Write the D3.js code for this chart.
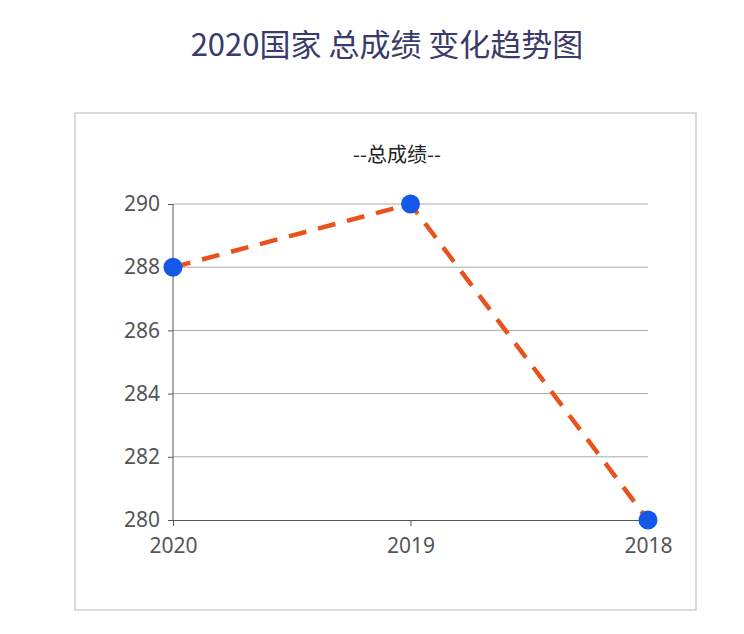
<!DOCTYPE html>
<html><head><meta charset="utf-8">
<script src="https://cdn.jsdelivr.net/npm/d3@7"></script>
<style>body{margin:0;background:#fff;font-family:"Noto Sans CJK SC","Noto Sans",sans-serif;}</style>
</head><body><div id="chart"></div>
<script>
const years = ["2020", "2019", "2018"];
const scores = [288, 290, 280];
const yTicks = [280, 282, 284, 286, 288, 290];

const width = 744, height = 634;
const svg = d3.select("#chart").append("svg").attr("width", width).attr("height", height);

svg.append("text").attr("x", 387).attr("y", 56).attr("text-anchor", "middle")
  .attr("font-size", 31).attr("fill", "#3b3b6b").text("2020国家 总成绩 变化趋势图");

svg.append("rect").attr("x", 75).attr("y", 113).attr("width", 621).attr("height", 497)
  .attr("fill", "none").attr("stroke", "#b8b8b8");

svg.append("text").attr("x", 397).attr("y", 162).attr("text-anchor", "middle")
  .attr("font-size", 20).attr("fill", "#222").text("--总成绩--");

const x = d3.scalePoint().domain(years).range([173, 648]);
const y = d3.scaleLinear().domain([280, 290]).range([520, 204]);

// gridlines
svg.append("g").selectAll("line").data(yTicks.filter(t => t > 280)).join("line")
  .attr("x1", 173).attr("x2", 648).attr("y1", d => y(d)).attr("y2", d => y(d))
  .attr("stroke", "#aaa").attr("stroke-width", 1);

const yAxis = svg.append("g").attr("transform", "translate(173,0)")
  .call(d3.axisLeft(y).tickValues(yTicks).tickSize(5).tickPadding(8));
const xAxis = svg.append("g").attr("transform", "translate(0,520)")
  .call(d3.axisBottom(x).tickSize(6).tickPadding(12));
[yAxis, xAxis].forEach(a => {
  a.selectAll("text").attr("font-size", 21).attr("fill", "#555").attr("font-family", "Noto Sans, sans-serif");
  a.selectAll("line, path").attr("stroke", "#555");
});
yAxis.select(".domain").attr("d", "M0,520V204");

svg.append("path").datum(years.map((d, i) => [d, scores[i]]))
  .attr("d", d3.line().x(d => x(d[0])).y(d => y(d[1])))
  .attr("fill", "none").attr("stroke", "#e8521c").attr("stroke-width", 4.5)
  .attr("stroke-dasharray", "18,12");

svg.append("g").selectAll("circle").data(years).join("circle")
  .attr("cx", d => x(d)).attr("cy", (d, i) => y(scores[i])).attr("r", 9.5)
  .attr("fill", "#1558e8");
</script></body></html>
